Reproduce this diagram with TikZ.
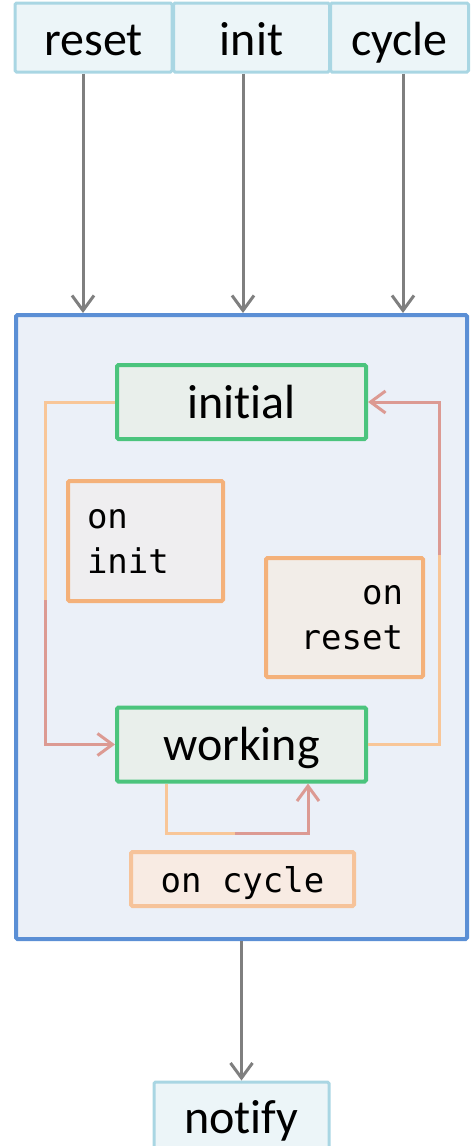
\documentclass[tikz,border=0pt]{standalone}
\usepackage{fontspec}
\setmainfont[Ligatures=NoCommon]{Carlito}
\setmonofont{DejaVu Sans Mono}
\usetikzlibrary{arrows.meta,calc}

\definecolor{inborder}{HTML}{A9D6E3}
\definecolor{infill}{HTML}{ECF5F8}
\definecolor{mainborder}{HTML}{5B8FD5}
\definecolor{mainfill}{HTML}{EBF0F8}
\definecolor{stateborder}{HTML}{4BC47D}
\definecolor{statefill}{HTML}{E9EFEB}
\definecolor{actborder}{HTML}{F4B17A}
\definecolor{actfillA}{HTML}{EFEEF0}
\definecolor{actfillB}{HTML}{F2EDE8}
\definecolor{cycborder}{HTML}{F6C39A}
\definecolor{cycfill}{HTML}{F8EBE3}
\definecolor{srcline}{HTML}{F8C698}
\definecolor{dstline}{HTML}{DC9A93}
\definecolor{flowgray}{HTML}{7F7F7F}

\tikzset{
  port/.style={draw=inborder, fill=infill, line width=3pt, rounded corners=1.5pt,
    font=\fontsize{48}{52}\selectfont, text height=35pt, text depth=0pt,
    minimum height=69pt, inner sep=0pt},
  machinebox/.style={draw=mainborder, fill=mainfill, line width=4pt, rounded corners=1.5pt,
    minimum width=451pt, minimum height=624pt, inner sep=0pt},
  statebox/.style={draw=stateborder, fill=statefill, line width=4pt, rounded corners=1.5pt,
    font=\fontsize{48}{52}\selectfont, text height=32pt, text depth=0pt,
    minimum width=249pt, minimum height=74pt, inner sep=0pt},
  actbox/.style={draw=actborder, line width=4pt, rounded corners=1.5pt,
    font=\ttfamily\fontsize{34}{45}\selectfont, inner ysep=0pt},
  barb/.tip={Straight Barb[length=15pt,width=22pt]},
  flow/.style={draw=flowgray, line width=3pt, -barb},
  srcleg/.style={draw=srcline, line width=3pt},
  dstleg/.style={draw=dstline, line width=3pt, -barb},
}

\begin{document}
\begin{tikzpicture}[x=1pt,y=-1pt]
\useasboundingbox (0,0) rectangle (473,1146);

% input ports
\node[port, minimum width=157pt] (reset) at (93.5,37.5) {reset};
\node[port, minimum width=156pt] (init) at (251.5,37.5) {init};
\node[port, minimum width=138pt] (cycle) at (399.5,37.5) {cycle};

% the state machine container
\node[machinebox] (machine) at (241.5,627) {};

% states
\node[statebox] (initial) at (241.5,402) {initial};
\node[statebox] (working) at (241.5,744.5) {working};

% actions
\node[actbox, fill=actfillA, minimum width=155pt, minimum height=120pt,
  text width=117pt, inner xsep=19pt, align=left] (oninit) at (145.5,541) {on\\init};
\node[actbox, fill=actfillB, minimum width=157pt, minimum height=119pt,
  text width=117pt, inner xsep=20pt, align=right] (onreset) at (344.5,617.5) {on\\reset};
\node[actbox, draw=cycborder, fill=cycfill, minimum width=223pt, minimum height=54pt,
  text height=26pt, text depth=0pt] (oncycle) at (242.5,879) {on cycle};

% output port
\node[port, minimum width=175pt, minimum height=70pt, text height=32pt] (notify) at (241.5,1117) {notify};

% inputs into the machine
\coordinate (rin) at ($(reset.south)+(-10.5,0)$);
\coordinate (iin) at ($(init.south)+(-8.5,0)$);
\coordinate (cin) at ($(cycle.south)+(3.5,0)$);
\draw[flow] (rin) -- (rin |- machine.north);
\draw[flow] (iin) -- (iin |- machine.north);
\draw[flow] (cin) -- (cin |- machine.north);

% output of the machine
\draw[flow] (machine.south) -- (notify.north);

% initial -> working (on init)
\coordinate (lmid) at (45,600);
\draw[srcleg] (initial.west) -| (lmid);
\draw[dstleg] (lmid) |- (working.west);

% working -> initial (on reset)
\coordinate (rmid) at (439,555);
\draw[srcleg] (working.east) -| (rmid);
\draw[dstleg] (rmid) |- (initial.east);

% working -> working (on cycle)
\coordinate (loopout) at ($(working.south)+(-75.5,0)$);
\coordinate (loopin) at ($(working.south)+(66.5,0)$);
\coordinate (loopmid) at (235,833);
\draw[srcleg] (loopout) |- (loopmid);
\draw[dstleg] (loopmid) -| (loopin);
\end{tikzpicture}
\end{document}
